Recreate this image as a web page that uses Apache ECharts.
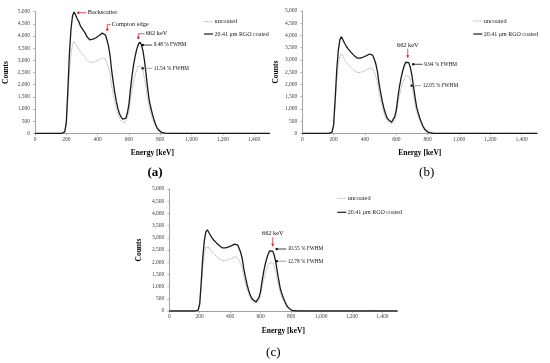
<!DOCTYPE html>
<html><head><meta charset="utf-8">
<script src="https://cdn.jsdelivr.net/npm/echarts@6/dist/echarts.min.js"></script>
<style>html,body{margin:0;padding:0;background:#fff}#c{width:550px;height:363px}</style>
</head><body><div id="c"></div>
<script>
// Energy channels (keV)
const energy = [0,170,180,190,200,210,220,230,240,250,260,270,280,290,300,310,320,330,340,350,360,370,380,390,400,410,420,430,440,450,460,470,480,490,500,510,520,530,540,550,560,570,580,590,600,610,620,630,640,650,660,670,680,690,700,710,720,730,740,750,760,770,780,790,800,810,820,830,840,850,1500];

// (a)
const coatedA = [0,0,0,60,450,1800,3290,4290,4840,4990, 4851,4700,4590,4420,4350,4220,4130,3990,3930,3840,3830, 3870,3870,3930,3960,4020,4050,4120,4150, 4042,3826,3573,3177,2564,2095,1663,1302,1014,797,671,581,545, 609,833,1186,1827,2372,2821,3173,3462,3654,3750, 3638,3375,2963,2400,1838,1350,1050,788,563,375,225,131,68,34,15,8,0,0,0];
const uncoatedA = [0,0,0,45,340,1360,2495,3250,3667,3780, 3674,3560,3463,3366,3287,3208,3120,3032,2962,2918,2900, 2918,2939,2964,2997,3029,3061,3100,3130, 3049,2886,2696,2398,1938,1585,1260,989,772,610,515,447,420, 468,637,902,1384,1794,2131,2396,2613,2758,2830, 2745,2547,2236,1811,1387,1019,792,594,425,283,170,99,51,25,11,6,0,0,0];
// (b)
const coatedB = [0,0,0,47,356,1422,2607,3397,3832,3950, 3816,3683,3567,3469,3389,3318,3247,3185,3122,3078,3060, 3077,3096,3119,3148,3178,3207,3243,3270, 3186,3017,2820,2510,2031,1665,1328,1046,821,652,554,483,455, 506,682,960,1465,1894,2248,2526,2753,2904,2980, 2891,2682,2354,1907,1460,1073,834,626,447,298,179,104,54,27,12,6,0,0,0];
const uncoatedB = [0,0,0,39,293,1170,2145,2795,3153,3250, 3133,3016,2915,2829,2759,2696,2634,2579,2525,2486,2470, 2488,2507,2532,2562,2593,2624,2661,2690, 2621,2482,2320,2066,1674,1373,1096,865,680,542,461,403,380, 421,564,788,1196,1543,1828,2053,2236,2359,2420, 2347,2178,1912,1549,1186,871,678,508,363,242,145,85,44,22,10,5,0,0,0];
// (c)
const coatedC = [0,0,0,40,300,1199,2198,2864,3230,3330, 3216,3102,3003,2920,2851,2790,2730,2676,2623,2585,2570, 2586,2604,2626,2654,2682,2710,2744,2770, 2698,2554,2387,2123,1716,1405,1117,878,686,543,459,399,375, 418,569,806,1237,1603,1905,2142,2336,2465,2530, 2454,2277,1999,1619,1240,911,708,531,380,253,152,89,46,23,10,5,0,0,0];
const uncoatedC = [0,0,0,32,243,972,1782,2322,2619,2700, 2604,2508,2425,2354,2297,2246,2194,2150,2105,2073,2060, 2074,2091,2110,2136,2161,2186,2217,2240, 2182,2067,1933,1722,1395,1146,915,723,570,454,387,339,320, 354,474,662,1004,1295,1534,1722,1876,1979,2030, 1969,1827,1604,1299,995,731,568,426,305,203,122,71,37,18,8,4,0,0,0];

const seriesNames = ['uncoated', '20.41 μm RGO coated'];
const panelLabels = ['(a)', '(b)', '(c)'];
const xTitle = 'Energy [keV]';
const yTitle = 'Counts';

// Annotations: [panel, kind, text, anchorEnergy, anchorCounts]
const annotations = [
  [0, 'pointer-red', 'Backscatter', 277, 4957],
  [0, 'elbow', 'Compton edge', 462, 4266],
  [0, 'elbow', '662 keV', 660, 3929],
  [0, 'pointer-black', '9.48 % FWHM', 688, 3629],
  [0, 'pointer-gray', '11.54 % FWHM', 688, 2671],
  [1, 'down', '662 keV', 673, 3068],
  [1, 'pointer-black', '9.94 % FWHM', 708, 2822],
  [1, 'pointer-gray', '12.05 % FWHM', 698, 1947],
  [2, 'down', '662 keV', 680, 2635],
  [2, 'pointer-black', '10.55 % FWHM', 706, 2540],
  [2, 'pointer-gray', '12.78 % FWHM', 706, 2040]
];

const FONT = 'Liberation Serif, Times New Roman, serif';
const RED = '#e3262b';
const UNC = '#b3b3b3';
const COAT = '#1a1a1a';
const grids = [
  {left: 35, top: 11.7, width: 234.8, height: 121.6},
  {left: 302.3, top: 11, width: 235, height: 122.3},
  {left: 169.3, top: 189, width: 228.2, height: 122}
];
const legendPos = [[204, 21.7, 34], [473.3, 21, 34], [337.3, 198.3, 212.3]];
const labelPos = [[155, 173, 'bold'], [426.7, 173, 'normal'], [273.3, 352.7, 'normal']];
const yNameGap = [25, 22, 26];

const pairs = [[uncoatedA, coatedA], [uncoatedB, coatedB], [uncoatedC, coatedC]];
const toData = arr => energy.map((e, i) => [e, arr[i]]);

const xAxes = [], yAxes = [], series = [];
grids.forEach((g, i) => {
  xAxes.push({
    type: 'value', gridIndex: i, min: 0, max: 1500, interval: 200,
    name: xTitle, nameLocation: 'middle', nameGap: 16,
    nameTextStyle: {fontFamily: FONT, fontWeight: 'bold', fontSize: 7.5, color: '#000'},
    axisLine: {lineStyle: {color: '#8c8c8c', width: 0.8}},
    axisTick: {show: true, length: 2, lineStyle: {color: '#8c8c8c', width: 0.6}},
    axisLabel: {fontFamily: FONT, fontSize: 5.5, color: '#444', margin: 3, showMaxLabel: false},
    splitLine: {show: false}
  });
  yAxes.push({
    type: 'value', gridIndex: i, min: 0, max: 5000, interval: 500,
    name: yTitle, nameLocation: 'middle', nameGap: yNameGap[i],
    nameTextStyle: {fontFamily: FONT, fontWeight: 'bold', fontSize: 7.5, color: '#000'},
    axisLine: {show: true, lineStyle: {color: '#8c8c8c', width: 0.8}},
    axisTick: {show: true, length: 2, lineStyle: {color: '#8c8c8c', width: 0.6}},
    axisLabel: {fontFamily: FONT, fontSize: 5.5, color: '#444', margin: 5},
    splitLine: {show: false}
  });
  series.push({
    name: seriesNames[0], type: 'line', xAxisIndex: i, yAxisIndex: i,
    data: toData(pairs[i][0]), symbol: 'none', z: 2,
    lineStyle: {color: UNC, width: 1, type: [1.5, 0.8]},
    itemStyle: {color: UNC}
  });
  series.push({
    name: seriesNames[1], type: 'line', xAxisIndex: i, yAxisIndex: i,
    data: toData(pairs[i][1]), symbol: 'none', z: 3,
    lineStyle: {color: COAT, width: 1.3},
    itemStyle: {color: COAT}
  });
});

const chart = echarts.init(document.getElementById('c'), null, {renderer: 'canvas'});
chart.setOption({
  animation: false,
  backgroundColor: '#fff',
  legend: {show: false},
  grid: grids.map(g => Object.assign({containLabel: false}, g)),
  xAxis: xAxes, yAxis: yAxes, series: series
});

const gfx = [];
labelPos.forEach((p, i) => {
  gfx.push({type: 'text', x: p[0], y: p[1], style: {text: panelLabels[i], fontFamily: FONT, fontSize: 13, fontWeight: p[2], fill: '#000', align: 'center', verticalAlign: 'middle'}});
});
// legend keys
legendPos.forEach(lp => {
  const [lx, y1, y2] = lp;
  gfx.push({type: 'line', shape: {x1: lx, y1: y1, x2: lx + 9, y2: y1}, style: {stroke: UNC, lineWidth: 1, lineDash: [1.5, 0.8]}});
  gfx.push({type: 'text', x: lx + 10.5, y: y1, style: {text: seriesNames[0], fontFamily: FONT, fontSize: 6.3, fill: '#222', align: 'left', verticalAlign: 'middle'}});
  gfx.push({type: 'line', shape: {x1: lx, y1: y2, x2: lx + 9, y2: y2}, style: {stroke: COAT, lineWidth: 1.2}});
  gfx.push({type: 'text', x: lx + 10.5, y: y2, style: {text: seriesNames[1], fontFamily: FONT, fontSize: 6, fill: '#222', align: 'left', verticalAlign: 'middle'}});
});
annotations.forEach(a => {
  const [gi, kind, text, ex, ey] = a;
  const [px, py] = chart.convertToPixel({gridIndex: gi}, [ex, ey]);
  const isKev = text.indexOf('FWHM') < 0;
  const fs = isKev ? 6.3 : 5.3;
  const tStyle = (t, align) => ({text: t, fontFamily: FONT, fontSize: fs, fill: '#111', align: align, verticalAlign: 'middle'});
  if (kind.indexOf('pointer') === 0) {
    const lc = kind === 'pointer-red' ? RED : (kind === 'pointer-gray' ? '#8a8a8a' : '#111');
    const dc = kind === 'pointer-red' ? RED : '#111';
    const len = kind === 'pointer-red' ? 8 : 9.5;
    gfx.push({type: 'line', shape: {x1: px, y1: py, x2: px + len, y2: py}, style: {stroke: lc, lineWidth: 0.8}, z: 10});
    gfx.push({type: 'rect', shape: {x: px - 1.1, y: py - 1.1, width: 2.2, height: 2.2}, style: {fill: dc}, z: 11});
    gfx.push({type: 'text', x: px + len + 1.5, y: py, style: tStyle(text, 'left'), z: 11});
  } else if (kind === 'elbow') {
    const up = text === '662 keV' ? 4 : 5.2;
    const right = text === '662 keV' ? 6.4 : 3.4;
    gfx.push({type: 'polyline', shape: {points: [[px, py], [px, py - up], [px + right, py - up]]}, style: {stroke: RED, lineWidth: 0.8, fill: null}, z: 10});
    gfx.push({type: 'rect', shape: {x: px - 1.1, y: py - 1.1, width: 2.2, height: 2.2}, style: {fill: RED}, z: 11});
    gfx.push({type: 'text', x: px + right + 1, y: py - up, style: tStyle(text, 'left'), z: 11});
  } else if (kind === 'down') {
    const len = 9.5;
    gfx.push({type: 'line', shape: {x1: px, y1: py - len, x2: px, y2: py - 2}, style: {stroke: RED, lineWidth: 0.8}, z: 10});
    gfx.push({type: 'polygon', shape: {points: [[px - 1.6, py - 3], [px + 1.6, py - 3], [px, py]]}, style: {fill: RED}, z: 11});
    gfx.push({type: 'text', x: px, y: py - len - 3.8, style: tStyle(text, 'center'), z: 11});
  }
});
chart.setOption({graphic: gfx});
</script>
</body></html>
